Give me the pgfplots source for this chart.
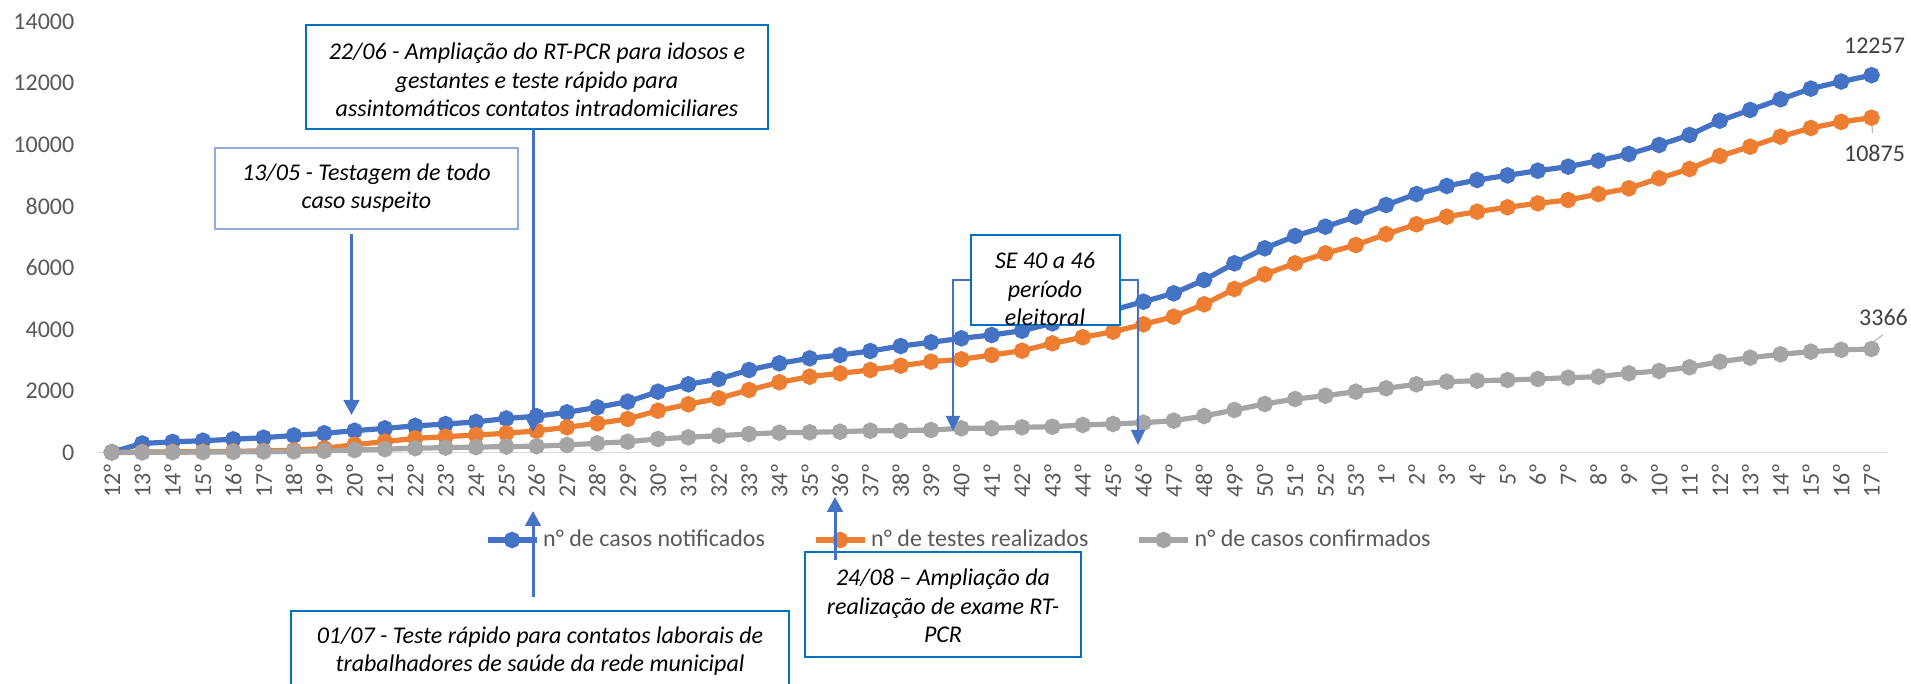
\documentclass[border=0pt]{standalone}
\usepackage{fontspec}
\setmainfont{Carlito}
\usepackage{pgfplots}
\usepackage{pgfplotstable}
\pgfplotsset{compat=1.18}
\usetikzlibrary{arrows.meta}
\definecolor{notif}{HTML}{4472C4}
\definecolor{testes}{HTML}{ED7D31}
\definecolor{confirm}{HTML}{A5A5A5}
\definecolor{boxblue}{HTML}{0070C0}
\definecolor{boxlight}{HTML}{8FAADC}
\definecolor{ticktext}{HTML}{595959}
\definecolor{lbltext}{HTML}{404040}
\definecolor{axisgray}{HTML}{D9D9D9}
\newcommand\ann{\fontsize{12}{14.3}\selectfont\itshape}

% semana epidemiologica: notificados, testes, confirmados
\pgfplotstableread{
idx notif testes conf
0 20 10 5
1 300 20 10
2 350 30 15
3 390 35 20
4 435 45 25
5 487 60 35
6 560 80 45
7 630 140 60
8 714 260 85
9 790 360 115
10 870 467 145
11 930 520 165
12 1000 575 180
13 1110 630 200
14 1185 710 210
15 1311 824 250
16 1473 954 305
17 1656 1094 357
18 1981 1364 445
19 2220 1571 500
20 2392 1766 552
21 2685 2036 607
22 2902 2285 649
23 3064 2468 662
24 3172 2578 682
25 3301 2685 714
26 3463 2825 714
27 3584 2955 737
28 3714 3032 792
29 3821 3172 792
30 3961 3312 824
31 4200 3551 844
32 4420 3747 900
33 4633 3929 932
34 4903 4168 974
35 5175 4416 1039
36 5607 4818 1191
37 6149 5315 1386
38 6636 5791 1581
39 7036 6149 1743
40 7338 6473 1851
41 7662 6743 1981
42 8042 7095 2091
43 8399 7415 2220
44 8659 7662 2305
45 8854 7825 2338
46 9004 7968 2360
47 9156 8097 2393
48 9286 8204 2435
49 9481 8399 2468
50 9697 8584 2578
51 9990 8909 2653
52 10315 9211 2773
53 10779 9633 2955
54 11127 9935 3084
55 11474 10260 3195
56 11820 10542 3280
57 12050 10740 3340
58 12257 10875 3366
}\dados

\begin{document}
\begin{tikzpicture}
\begin{axis}[
  at={(48.35pt,115.65pt)}, anchor=south west,
  scale only axis, width=895pt, height=215.6pt,
  xmin=-0.5, xmax=58.5, ymin=0, ymax=14000,
  axis x line*=bottom, axis y line*=left,
  x axis line style={-, draw=axisgray, line width=0.75pt},
  y axis line style={draw=none},
  major tick length=0pt,
  xtick={0,...,58},
  xticklabels={12º,13º,14º,15º,16º,17º,18º,19º,20º,21º,22º,23º,24º,25º,26º,27º,28º,29º,30º,31º,32º,33º,34º,35º,36º,37º,38º,39º,40º,41º,42º,43º,44º,45º,46º,47º,48º,49º,50º,51º,52º,53º,1º,2º,3º,4º,5º,6º,7º,8º,9º,10º,11º,12º,13º,14º,15º,16º,17º},
  xticklabel style={rotate=90, anchor=east, inner xsep=5pt, font=\fontsize{12}{14}\selectfont, text=ticktext},
  ytick={0,2000,...,14000},
  scaled y ticks=false,
  yticklabel style={inner xsep=11pt, font=\fontsize{12}{14}\selectfont, text=ticktext},
  /pgf/number format/assume math mode=true,
  /pgf/number format/1000 sep={},
  legend columns=3,
  legend cell align=left,
  legend style={at={(0.2169,-0.2025)}, anchor=west, draw=none, fill=none,
    inner sep=0pt, outer sep=0pt, font=\fontsize{12}{14}\selectfont, text=ticktext,
    /tikz/every even column/.append style={column sep=22pt}},
  legend image code/.code={\draw[#1, mark repeat=2, mark phase=2] plot coordinates {(0pt,0pt) (12.25pt,0pt) (24.5pt,0pt)};},
  every axis plot/.append style={line width=2.6pt, mark=*, mark size=2.8pt, mark options={solid}},
  clip=false
]
\addplot[notif] table[x=idx, y=notif] {\dados};
\addlegendentry{n° de casos notificados}
\addplot[testes] table[x=idx, y=testes] {\dados};
\addlegendentry{n° de testes realizados}
\addplot[confirm] table[x=idx, y=conf] {\dados};
\addlegendentry{n° de casos confirmados}

\node[font=\fontsize{12}{14}\selectfont, text=lbltext] at (axis cs:58,12257) [xshift=1.5pt, yshift=14.5pt] {12257};
\draw[confirm!80, line width=0.6pt] ([yshift=-1pt]axis cs:58,10875) -- ([xshift=0.5pt, yshift=-7.5pt]axis cs:58,10875);
\node[font=\fontsize{12}{14}\selectfont, text=lbltext] at (axis cs:58,10875) [xshift=1.5pt, yshift=-17.7pt] {10875};
\draw[confirm!80, line width=0.6pt] ([xshift=1pt, yshift=3.6pt]axis cs:58,3366) -- ([xshift=5.5pt, yshift=7pt]axis cs:58,3366);
\node[font=\fontsize{12}{14}\selectfont, text=lbltext] at (axis cs:58,3366) [xshift=6pt, yshift=15.8pt] {3366};
\end{axis}

\begin{scope}[x=0.5pt, y=-0.5pt, shift={(0pt,342pt)}]
  % 22/06
  \draw[boxblue, line width=1pt, fill=white] (306,25) rectangle (768,129);
  \node[font=\ann, align=center] at (537,80) {22/06 - Ampliação do RT-PCR para idosos e\\gestantes e teste rápido para\\assintomáticos contatos intradomiciliares};
  \draw[notif, line width=1.5pt, -{Triangle[length=7.5pt, width=7.8pt]}] (533,129) -- (533,432);
  % 13/05
  \draw[boxlight, line width=1pt, fill=white] (215,148) rectangle (518,229);
  \node[font=\ann, align=center] at (366.5,188) {13/05 - Testagem de todo\\caso suspeito};
  \draw[notif, line width=1.5pt, -{Triangle[length=7.5pt, width=7.8pt]}] (351.5,234) -- (351.5,415);
  % 01/07
  \draw[boxblue, line width=1pt, fill=white] (291,611) rectangle (789,720);
  \node[font=\ann, align=center] at (540,651) {01/07 - Teste rápido para contatos laborais de\\trabalhadores de saúde da rede municipal};
  \draw[notif, line width=1.5pt, -{Triangle[length=7.5pt, width=7.8pt]}] (533,597) -- (533,511);
  % 24/08
  \draw[boxblue, line width=1pt, fill=white] (805,552) rectangle (1081,657);
  \node[font=\ann, align=center] at (943,606) {24/08 – Ampliação da\\realização de exame RT-\\PCR};
  \draw[notif, line width=1.5pt, -{Triangle[length=7.5pt, width=7.8pt]}] (835,560) -- (835,497);
  % SE 40 a 46
  \draw[notif, line width=0.8pt, {Triangle[length=7.5pt, width=7pt]}-{Triangle[length=7.5pt, width=7pt]}] (953,431) -- (953,280) -- (1138,280) -- (1138,445);
  \draw[boxblue, line width=1pt, fill=white] (971,235) rectangle (1120,325);
  \node[font=\ann, align=center] at (1045,289) {SE 40 a 46\\período\\eleitoral};
\end{scope}

\pgfresetboundingbox
\useasboundingbox (0,0) rectangle (955.5pt,342pt);
\end{tikzpicture}
\end{document}
